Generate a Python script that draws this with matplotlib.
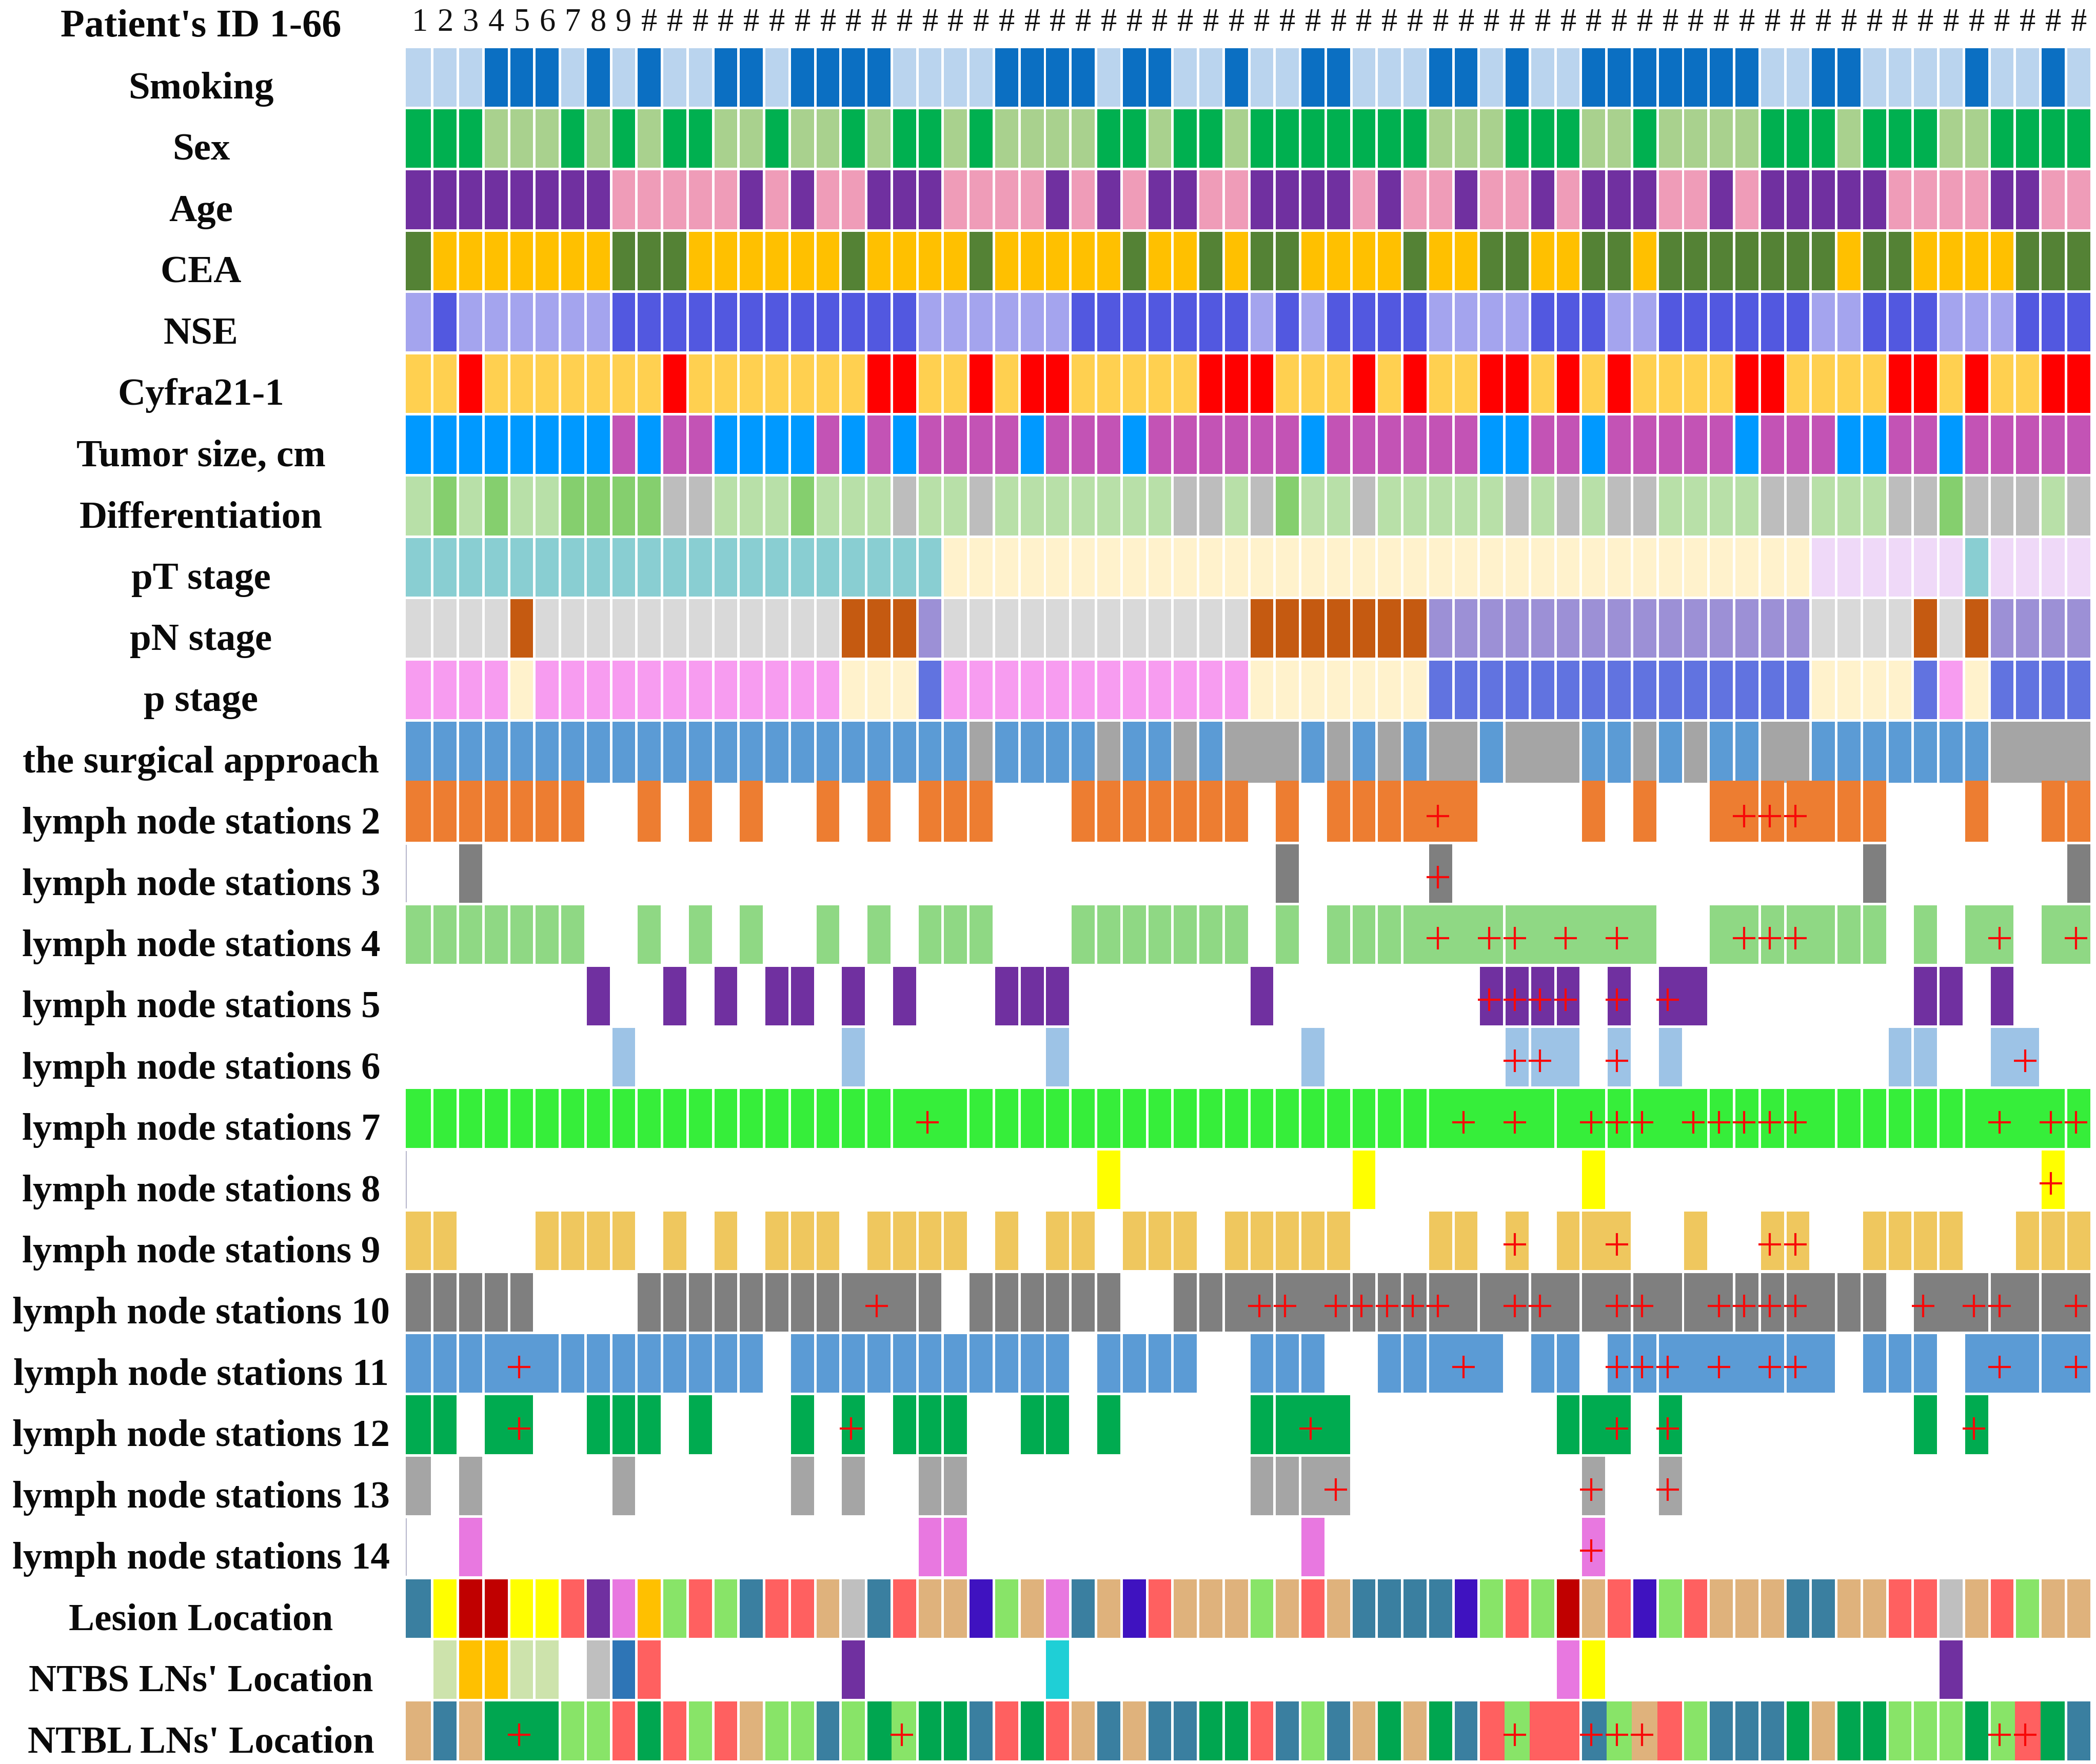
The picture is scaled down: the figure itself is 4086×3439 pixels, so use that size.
import matplotlib
matplotlib.use('Agg')
import matplotlib.pyplot as plt

plt.rcParams['font.family'] = ['Liberation Serif', 'DejaVu Serif']

# one character per patient (10 patients per chunk)
# ---- clinical rows
smoking = '0001110101' '0011011110' '0001111011' '0010011000' '1101001111' '1110011000' '010010'
sex = '1110001010' '1100100101' '1010000110' '1101111111' '0001110010' '0001110111' '001111'
age = '1111111100' '0001010011' '1000010101' '1001111010' '0100101110' '0101111100' '001100'
cea = '1000000011' '1000000100' '0010000010' '0101100001' '0011001101' '1111110110' '000111'
nse = '0100000011' '1111111111' '0000001111' '1110101111' '0000111001' '1111100111' '000111'
cyfra = '0010000000' '1000000011' '0010110000' '0111000101' '0011010100' '0011000011' '010011'
tumor_size = '1111111101' '0011110101' '0000100010' '0000010000' '0011001000' '0010001100' '100000'
differentiation = '0101001111' '2200010002' '0020000000' '2202100200' '0002020220' '0002200022' '122202'
pt_stage = '0000000000' '0000000000' '0111111111' '1111111111' '1111111111' '1111122222' '202222'
pn_stage = '0000100000' '0000000111' '2000000000' '0001111111' '2222222222' '2222200001' '012222'
p_stage = '0000100000' '0000000111' '2000000000' '0001111111' '2222222222' '2222211112' '012222'
surgical = '0000000000' '0000000000' '0010000100' '1011101010' '1101110010' '1001100000' '001111'

# ---- lymph node stations: 0 = not dissected, 1 = dissected, 2 = dissected and positive (+)
ln2 = '1111111001' '0101001010' '1110001111' '1110101111' '2100001010' '0122211100' '010011'
ln3 = '0010000000' '0000000000' '0000000000' '0000100000' '2000000000' '0000000100' '000001'
ln4 = '1111111001' '0101001010' '1110001111' '1110101111' '2122121210' '0122211101' '012012'
ln5 = '0000000100' '1010110101' '0001110000' '0001000000' '0022220202' '1000000001' '101000'
ln6 = '0000000010' '0000000100' '0000010000' '0000010000' '0002210201' '0000000011' '001200'
ln7 = '1111111111' '1111111111' '2111111111' '1111111111' '1212112221' '2222211111' '112122'
ln8 = '0000000000' '0000000000' '0000000100' '0000000100' '0000001000' '0000000000' '000020'
ln9 = '1100011110' '1010111011' '1101011011' '1011111000' '1102011200' '1002200111' '100111'
ln10 = '1111100001' '1111111121' '1011111100' '1112212222' '2112211221' '1222211102' '122112'
ln11 = '1111211111' '1111011111' '1111110111' '1001110011' '1210110222' '1212210111' '012112'
ln12 = '1101200111' '0100010201' '1100110100' '0001121000' '0000011202' '0000000001' '020000'
ln13 = '1010000010' '0000010100' '1100000000' '0001112000' '0000002002' '0000000000' '000000'
ln14 = '0010000000' '0000000000' '1100000000' '0000010000' '0000002000' '0000000000' '000000'

# ---- location rows, letters are looked up in location_colors, '.' = empty
lesion = 'abccbbdefg' 'hdhaddijad' 'iikhifaikd' 'iiihidiaaa' 'akhdhcidkh' 'diiiaaiidd' 'jidhii'
ntbs = '.lggll.jmd' '.......e..' '.....n....' '..........' '.....fb...' '..........' 'e.....'
ntbl = 'iaiooohhdo' 'dhdihhahoh' 'ooadodiaia' 'aoodahaioi' 'oadhddahid' 'haaaoioohh' 'hohdoa'
ntbl_positive = [5, 20, 44, 47, 48, 49, 63, 64]

location_colors = {
    'a': '#3A7FA0', 'b': '#FFFF00', 'c': '#C00000', 'd': '#FF6060', 'e': '#7030A0',
    'f': '#E878E0', 'g': '#FFC000', 'h': '#88E468', 'i': '#DFB27C', 'j': '#BFBFBF',
    'k': '#3F12C0', 'l': '#CDE3AC', 'm': '#2E75B6', 'n': '#1FCFD6', 'o': '#00A650',
}

labels = ['Smoking', 'Sex', 'Age', 'CEA', 'NSE', 'Cyfra21-1', 'Tumor size, cm', 'Differentiation',
          'pT stage', 'pN stage', 'p stage', 'the surgical approach'] \
    + ['lymph node stations %d' % i for i in range(2, 15)] \
    + ['Lesion Location', "NTBS LNs' Location", "NTBL LNs' Location"]
header_label = "Patient's ID 1-66"
header_ticks = [str(i) for i in range(1, 10)] + ['#'] * 57

clinical_rows = [
    (smoking, ['#BAD4EE', '#0B6FC2']),
    (sex, ['#A9D18E', '#00B050']),
    (age, ['#EF9CB8', '#7030A0']),
    (cea, ['#FFC000', '#548235']),
    (nse, ['#A4A4EE', '#5258E0']),
    (cyfra, ['#FFD050', '#FF0000']),
    (tumor_size, ['#C353B5', '#0099FF']),
    (differentiation, ['#B8E0A8', '#85CF6E', '#BDBDBD']),
    (pt_stage, ['#89CED2', '#FFF2CC', '#EFD9F8']),
    (pn_stage, ['#D9D9D9', '#C55A11', '#9C90D6']),
    (p_stage, ['#F79CF0', '#FFF2CC', '#6173E0']),
    (surgical, ['#5B9BD5', '#A5A5A5']),
]
ln_rows = [
    (ln2, '#ED7D31'), (ln3, '#7F7F7F'), (ln4, '#8FD884'), (ln5, '#7030A0'), (ln6, '#9DC3E6'),
    (ln7, '#36EE3A'), (ln8, '#FFFF00'), (ln9, '#EFC75E'), (ln10, '#7F7F7F'), (ln11, '#5B9BD5'),
    (ln12, '#00AB50'), (ln13, '#A5A5A5'), (ln14, '#E878E0'),
]

# cells printed without the white gap between them (first, last patient)
merged = {
    11: [(33, 35), (41, 42), (44, 46), (54, 55), (63, 66)],
    12: [(40, 42), (52, 53), (55, 56)],
    14: [(40, 43), (44, 49), (52, 53), (55, 56), (62, 63), (65, 66)],
    15: [(50, 51)],
    16: [(45, 46), (63, 64)],
    17: [(20, 22), (41, 45), (46, 47), (49, 51), (55, 56), (62, 65)],
    19: [(47, 48)],
    20: [(18, 20), (33, 34), (35, 37), (41, 42), (43, 44), (45, 46), (47, 48), (49, 50), (51, 52),
         (55, 56), (60, 62), (63, 64), (65, 66)],
    21: [(4, 6), (41, 43), (50, 54), (55, 56), (62, 64), (65, 66)],
    22: [(4, 5), (35, 37), (47, 48)],
    23: [(36, 37)],
    27: [(4, 6), (19, 20), (43, 46), (47, 50), (63, 65)],
}

W, H = 4087, 3439
n_cols, n_rows = 66, 28
col_w, row_h = 49.76, 119.4
gap = 0.1
bar_h = 0.955

fig = plt.figure(figsize=(W / 100, H / 100), dpi=100, facecolor='white')
ax = fig.add_axes([793 / W, 1 - (91 + n_rows * row_h) / H, n_cols * col_w / W, n_rows * row_h / H])
ax.set_xlim(0, n_cols)
ax.set_ylim(n_rows, 0)
ax.axis('off')


def draw_row(row, colors):
    # colors has one entry per patient, None = empty cell
    joined = set()
    for first, last in merged.get(row, []):
        joined.update(range(first, last))
    for col, color in enumerate(colors):
        if color is None:
            continue
        patient = col + 1
        left = col + gap / 2 - (gap / 2 if patient - 1 in joined else 0)
        if col == 0:
            left = -0.04  # first column is a bit wider
        right = col + 1 - gap / 2 + (gap / 2 if patient in joined else 0)
        top_pad = 0.04 if row == 12 else 0
        bottom_pad = 0.04 if row == 11 else 0
        ax.barh(row + 0.5 + (bottom_pad - top_pad) / 2, right - left, left=left,
                height=bar_h + top_pad + bottom_pad, color=color, linewidth=0, clip_on=False)


def draw_plus(row, cols):
    xs = [c - 1 + 0.5 - 0.1 for c in cols]
    ax.plot(xs, [row + 0.56] * len(xs), linestyle='none', marker='+', color='#F80808',
            markersize=32, markeredgewidth=3, zorder=5)


for r, (values, palette) in enumerate(clinical_rows):
    draw_row(r, [palette[int(v)] for v in values])

for r, (values, color) in enumerate(ln_rows, start=len(clinical_rows)):
    draw_row(r, [color if v != '0' else None for v in values])
    draw_plus(r, [i + 1 for i, v in enumerate(values) if v == '2'])

draw_row(25, [location_colors[v] for v in lesion])
draw_row(26, [location_colors.get(v) for v in ntbs])
draw_row(27, [location_colors[v] for v in ntbl])
draw_plus(27, ntbl_positive)

# faint rule left over at the start of the mostly empty rows
for r in [13, 18, 24]:
    ax.vlines(-0.03, r + 0.03, r + 0.97, color='#B8B8CC', linewidth=1.5, clip_on=False)

# row labels
label_x = (392 - 793) / col_w
for r, text in enumerate(labels):
    ax.text(label_x, r + 0.5 + 0.35, text, ha='center', va='baseline', fontsize=54,
            fontweight='bold', color='#0A0A0A', clip_on=False)
ax.text(label_x, -0.167, header_label, ha='center', va='baseline', fontsize=55,
        fontweight='bold', color='#0A0A0A', clip_on=False)

# patient ids
for c, tick in enumerate(header_ticks):
    ax.text(c + 0.5, -0.26, tick, ha='center', va='baseline', fontsize=45, color='#111111',
            clip_on=False)

fig.savefig('out.png', dpi=100, facecolor='white')
